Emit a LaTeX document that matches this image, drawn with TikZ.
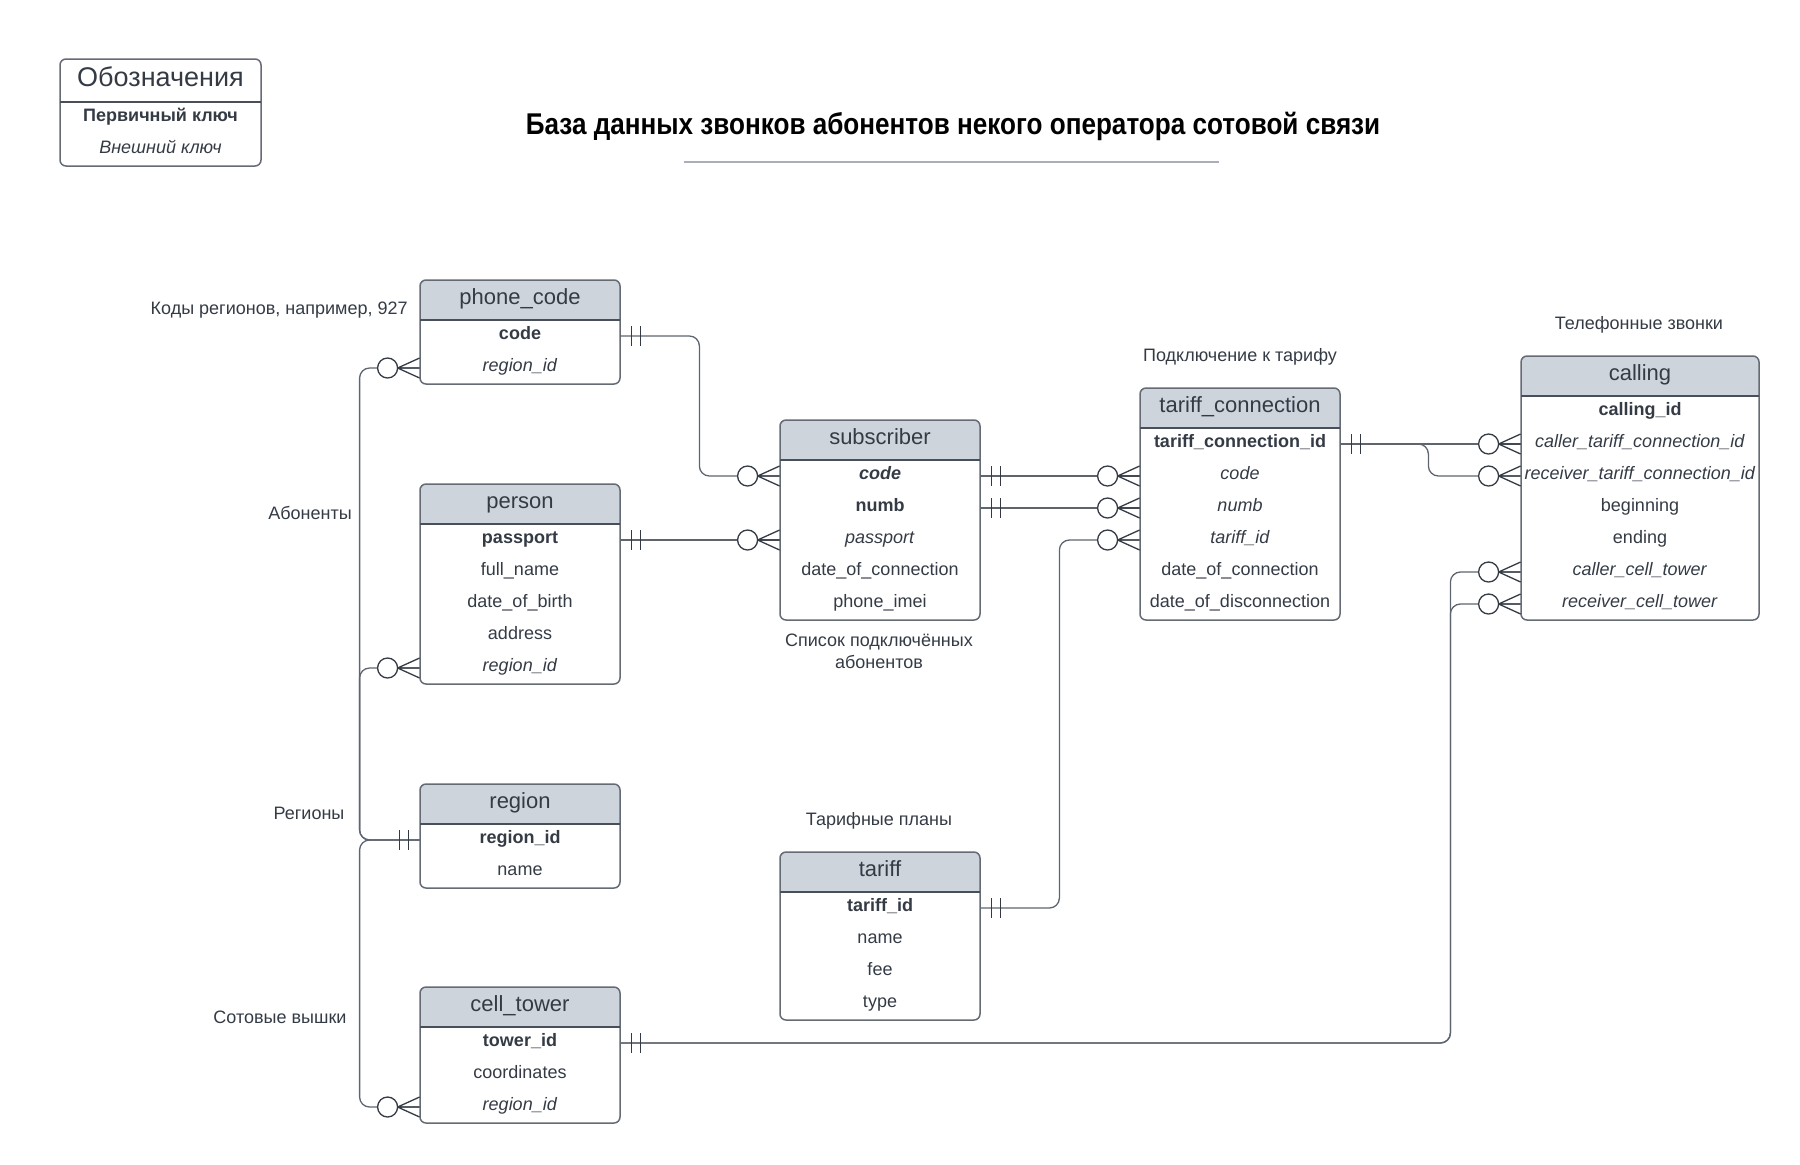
\documentclass[tikz,border=0pt]{standalone}
\usepackage{fontspec}
\setmainfont{Liberation Sans}
\newfontfamily\narrowsans[FakeStretch=0.87]{Liberation Sans}
\usepackage{xcolor}
\usepackage{tikz}
\usetikzlibrary{positioning,calc}
\definecolor{ink}{HTML}{343B45}
\definecolor{hdfill}{HTML}{CED4DC}
\definecolor{edge}{HTML}{656B74}
\definecolor{relgray}{HTML}{5E6570}
\definecolor{rule}{HTML}{A9AFBA}

\tikzset{
  field/.style={inner sep=0pt, minimum width=100pt, text height=6pt, text depth=3pt,
    font=\fontsize{9}{11}\selectfont, text=ink},
  head/.style={inner sep=0pt, text height=7.5pt, text depth=3pt,
    font=\fontsize{11}{13}\selectfont, text=ink},
  note/.style={inner sep=0pt, font=\fontsize{9}{11}\selectfont, text=ink, align=center},
  tbledge/.style={draw=edge, line width=0.75pt},
  tbldiv/.style={draw=ink!90, line width=0.7pt},
  rel/.style={draw=relgray, line width=0.65pt, rounded corners=5pt},
  notch/.style={draw=ink, line width=0.65pt},
  mandone/.pic={\draw[notch] (11,-10) -- (11,10) (20,-10) -- (20,10);},
  zeromany/.pic={\draw[notch] (0,-10) -- (-22,0) -- (0,10) (0,0) -- (-22,0);
    \draw[notch, fill=white] (-32,0) circle[radius=10];}
}

% table frame: left, top, width, number of fields
\newcommand{\tblframe}[4]{%
  \begin{scope}
    \clip[rounded corners=3pt] (#1,#2) rectangle ++(#3,{40+32*#4});
    \fill[hdfill] (#1,#2) rectangle ++(#3,40);
  \end{scope}
  \draw[tbledge, rounded corners=3pt] (#1,#2) rectangle ++(#3,{40+32*#4});
  \draw[tbldiv] (#1,{#2+40}) -- ++(#3,0);
}

\begin{document}
\begin{tikzpicture}[x=0.5pt, y=-0.5pt]
  \useasboundingbox (0,0) rectangle (1800,1164);

  % legend
  \draw[tbledge, rounded corners=3pt] (60,59) rectangle (261,166);
  \draw[tbldiv] (60,102) -- (261,102);
  \node[head, font=\fontsize{13.5}{15}\selectfont] (lgd) at (160.5,81.5) {Обозначения};
  \node[field] (lgd-pk) at (160.5,118.5) {\textbf{Первичный ключ}};
  \node[field] (lgd-fk) at (160.5,150.5) {\textit{Внешний ключ}};

  % title
  \node[inner sep=0pt, font=\narrowsans\bfseries\fontsize{15}{18}\selectfont] (ttl) at (953,126)
    {База данных звонков абонентов некого оператора сотовой связи};
  \draw[rule, line width=1pt] (684,162) -- (1219,162);

  % phone_code
  \tblframe{420}{280}{200}{2}
  \node[head] (pc) at (520,300) {phone\_code};
  \node[field] (pc-code) at (520,336) {\textbf{code}};
  \node[field] (pc-reg) at (520,368) {\textit{region\_id}};

  % person
  \tblframe{420}{484}{200}{5}
  \node[head] (per) at (520,504) {person};
  \node[field] (per-pass) at (520,540) {\textbf{passport}};
  \node[field] (per-name) at (520,572) {full\_name};
  \node[field] (per-birth) at (520,604) {date\_of\_birth};
  \node[field] (per-addr) at (520,636) {address};
  \node[field] (per-reg) at (520,668) {\textit{region\_id}};

  % region
  \tblframe{420}{784}{200}{2}
  \node[head] (reg) at (520,804) {region};
  \node[field] (reg-id) at (520,840) {\textbf{region\_id}};
  \node[field] (reg-name) at (520,872) {name};

  % cell_tower
  \tblframe{420}{987}{200}{3}
  \node[head] (ct) at (520,1007) {cell\_tower};
  \node[field] (ct-id) at (520,1043) {\textbf{tower\_id}};
  \node[field] (ct-coord) at (520,1075) {coordinates};
  \node[field] (ct-reg) at (520,1107) {\textit{region\_id}};

  % subscriber
  \tblframe{780}{420}{200}{5}
  \node[head] (sub) at (880,440) {subscriber};
  \node[field] (sub-code) at (880,476) {\textbf{\textit{code}}};
  \node[field] (sub-numb) at (880,508) {\textbf{numb}};
  \node[field] (sub-pass) at (880,540) {\textit{passport}};
  \node[field] (sub-date) at (880,572) {date\_of\_connection};
  \node[field] (sub-imei) at (880,604) {phone\_imei};

  % tariff
  \tblframe{780}{852}{200}{4}
  \node[head] (tar) at (880,872) {tariff};
  \node[field] (tar-id) at (880,908) {\textbf{tariff\_id}};
  \node[field] (tar-name) at (880,940) {name};
  \node[field] (tar-fee) at (880,972) {fee};
  \node[field] (tar-type) at (880,1004) {type};

  % tariff_connection
  \tblframe{1140}{388}{200}{6}
  \node[head] (tc) at (1240,408) {tariff\_connection};
  \node[field] (tc-id) at (1240,444) {\textbf{tariff\_connection\_id}};
  \node[field] (tc-code) at (1240,476) {\textit{code}};
  \node[field] (tc-numb) at (1240,508) {\textit{numb}};
  \node[field] (tc-tar) at (1240,540) {\textit{tariff\_id}};
  \node[field] (tc-start) at (1240,572) {date\_of\_connection};
  \node[field] (tc-end) at (1240,604) {date\_of\_disconnection};

  % calling
  \tblframe{1521}{356}{238}{7}
  \node[head] (cl) at (1640,376) {calling};
  \node[field, minimum width=119pt] (cl-id) at (1640,412) {\textbf{calling\_id}};
  \node[field, minimum width=119pt] (cl-ctc) at (1640,444) {\textit{caller\_tariff\_connection\_id}};
  \node[field, minimum width=119pt] (cl-rtc) at (1640,476) {\textit{receiver\_tariff\_connection\_id}};
  \node[field, minimum width=119pt] (cl-beg) at (1640,508) {beginning};
  \node[field, minimum width=119pt] (cl-end) at (1640,540) {ending};
  \node[field, minimum width=119pt] (cl-cct) at (1640,572) {\textit{caller\_cell\_tower}};
  \node[field, minimum width=119pt] (cl-rct) at (1640,604) {\textit{receiver\_cell\_tower}};

  % captions
  \node[note, anchor=east] (n-pc) at (408,310) {Коды регионов, например, 927};
  \node[note] (n-per) at (310,513) {Абоненты};
  \node[note] (n-reg) at (309,813) {Регионы};
  \node[note] (n-ct) at (280,1017) {Сотовые вышки};
  \node[note] (n-sub) at (879,651) {Список подключённых\\абонентов};
  \node[note] (n-tar) at (879,821) {Тарифные планы};
  \node[note] (n-tc) at (1240,357) {Подключение к тарифу};
  \node[note] (n-cl) at (1639,325) {Телефонные звонки};

  % relations
  \draw[rel] (pc-code.east) -- ++(79,0) |- (sub-code.west);
  \draw[rel] (reg-id.west) -- ++(-60,0) |- (pc-reg.west);
  \draw[rel] (reg-id.west) -- ++(-60,0) |- (per-reg.west);
  \draw[rel] (reg-id.west) -- ++(-60,0) |- (ct-reg.west);
  \draw[rel] (per-pass.east) -- (sub-pass.west);
  \draw[rel] (sub-code.east) -- (tc-code.west);
  \draw[rel] (sub-numb.east) -- (tc-numb.west);
  \draw[rel] (tar-id.east) -- ++(79,0) |- (tc-tar.west);
  \draw[rel] (tc-id.east) -- (cl-ctc.west);
  \draw[rel] (tc-id.east) -- ++(88,0) |- (cl-rtc.west);
  \draw[rel] (ct-id.east) -- ++(830,0) |- (cl-cct.west);
  \draw[rel] (ct-id.east) -- ++(830,0) |- (cl-rct.west);

  % ends
  \foreach \n in {pc-code, per-pass, sub-code, sub-numb, tar-id, tc-id, ct-id}
    \pic at (\n.east) {mandone};
  \pic[xscale=-1] at (reg-id.west) {mandone};
  \foreach \n in {pc-reg, per-reg, ct-reg, sub-code, sub-pass, tc-code, tc-numb, tc-tar,
                  cl-ctc, cl-rtc, cl-cct, cl-rct}
    \pic at (\n.west) {zeromany};
\end{tikzpicture}
\end{document}
